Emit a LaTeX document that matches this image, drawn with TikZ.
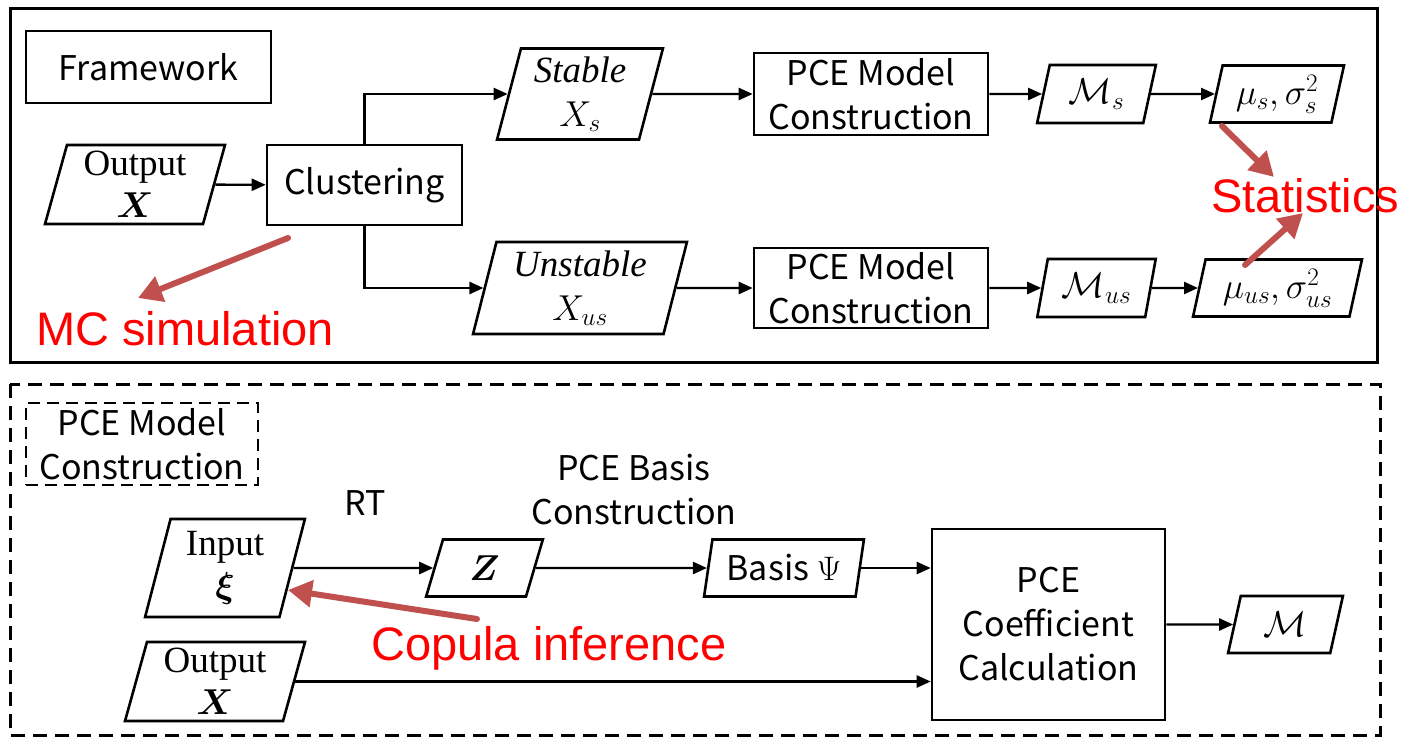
\RequirePackage{fix-cm}
\documentclass[tikz,border=0pt]{standalone}
\usepackage{amsmath}
\usepackage{fontspec}
\newfontfamily\uisans{Noto Sans CJK SC}
\newfontfamily\redsans{Liberation Sans}
\newfontfamily\wordserif{Liberation Serif}
\newcommand{\wrd}[1]{{\wordserif\fontsize{37}{44}\selectfont #1}}
\usetikzlibrary{shapes.geometric,arrows.meta}
\definecolor{accentred}{HTML}{C0504D}
\tikzset{
  box/.style={draw, line width=2.6pt, font=\uisans\fontsize{34}{44}\selectfont, align=center, inner sep=0pt},
  para/.style={draw, line width=2.6pt, trapezium, trapezium left angle=76, trapezium right angle=104,
    trapezium stretches=true, inner sep=0pt, align=center, font=\fontsize{36}{44}\selectfont},
  flow/.style={line width=2.4pt, -{Triangle[length=14pt,width=12pt]}},
  note/.style={text=red, font=\redsans\fontsize{47}{52}\selectfont, inner sep=0pt},
  hint/.style={draw=accentred, line width=6pt, line cap=round, -{Triangle[length=24pt,width=26pt]}},
  lbl/.style={font=\uisans\fontsize{34}{44}\selectfont, align=center, inner sep=0pt},
  frame/.style={line width=3pt},
}
\begin{document}
\begin{tikzpicture}[x=1pt,y=-1pt]
\useasboundingbox (0,0) rectangle (1404,736);

% ---------- framework ----------
\draw[frame] (10,8) rectangle (1377,362);
\node[box, minimum width=245pt, minimum height=72pt] (fw) at (148.5,67) {Framework};

\node[para, minimum width=180pt, minimum height=79pt] (out) at (135,184.5) {\wrd{Output}\\[-2pt]$\boldsymbol{X}$};
\node[box, minimum width=195pt, minimum height=80pt] (clu) at (364.5,185) {Clustering};

\node[para, minimum width=166pt, minimum height=91pt] (st) at (580,94) {\wrd{\itshape Stable}\\$X_s$};
\node[para, minimum width=214pt, minimum height=92pt] (ust) at (580,288) {\wrd{\itshape Unstable}\\$X_{us}$};

\node[box, minimum width=234pt, minimum height=82pt] (pa) at (871,94) {PCE Model\\Construction};
\node[box, minimum width=234pt, minimum height=80pt] (pb) at (871,288) {PCE Model\\Construction};

\node[para, minimum width=119pt, minimum height=58pt] (ma) at (1096.5,94) {$\mathcal{M}_s$};
\node[para, minimum width=119pt, minimum height=58pt] (mb) at (1096.5,288) {$\mathcal{M}_{us}$};

\node[para, minimum width=134pt, minimum height=57pt] (sa) at (1277,94) {$\mu_s,\sigma_s^2$};
\node[para, minimum width=169pt, minimum height=57pt] (sb) at (1277.5,288) {$\mu_{us},\sigma_{us}^2$};

\draw[flow] (out) -- (clu);
\draw[flow] (clu.north) |- (st);
\draw[flow] (clu.south) |- (ust);
\draw[flow] (st) -- (pa);
\draw[flow] (ust) -- (pb);
\draw[flow] (pa) -- (ma);
\draw[flow] (pb) -- (mb);
\draw[flow] (ma) -- (sa);
\draw[flow] (mb) -- (sb);

% annotations
\node[note, anchor=base west] (stat) at (1211,212) {Statistics};
\node[note, anchor=base west] (mc) at (36,345) {MC simulation};
\coordinate (s1a) at (1222,126);
\coordinate (s1b) at (1274,177);
\coordinate (s2a) at (1245,265);
\coordinate (s2b) at (1303,213);
\coordinate (mca) at (288,238);
\coordinate (mcb) at (138,298);
\draw[hint] (s1a) -- (s1b);
\draw[hint] (s2a) -- (s2b);
\draw[hint] (mca) -- (mcb);

% ---------- PCE model construction ----------
\draw[frame, dash pattern=on 14pt off 8pt] (10,384) rectangle (1380,735);
\node[box, dash pattern=on 12pt off 7pt, minimum width=232pt, minimum height=82pt] (pm) at (142,444) {PCE Model\\Construction};

\node[para, minimum width=160pt, minimum height=98pt] (in) at (225,568) {\wrd{Input}\\[-2pt]$\boldsymbol{\xi}$};
\node[para, minimum width=180pt, minimum height=79pt] (out2) at (215,681.5) {\wrd{Output}\\[-2pt]$\boldsymbol{X}$};
\node[para, minimum width=117pt, minimum height=57pt] (z) at (484.5,568) {$\boldsymbol{Z}$};
\node[para, minimum width=160pt, minimum height=57pt, font=\uisans\fontsize{34}{44}\selectfont] (bas) at (784,568) {Basis $\Psi$};
\node[box, minimum width=233pt, minimum height=191pt] (coef) at (1048.5,624.5) {PCE\\Coefficient\\Calculation};
\node[para, minimum width=115pt, minimum height=57pt] (m) at (1285.5,624.5) {$\mathcal{M}$};

\node[lbl] (rt) at (365,503) {RT};
\node[lbl] (pb2) at (634,490) {PCE Basis\\Construction};

\draw[flow] (in) -- (z);
\draw[flow] (z) -- (bas);
\draw[flow] (bas.east) -- (bas.east -| coef.west);
\draw[flow] (out2.east) -- (out2.east -| coef.west);
\draw[flow] (coef) -- (m);

\node[note, anchor=base west] (cop) at (371,660) {Copula inference};
\coordinate (cpa) at (477,619);
\coordinate (cpb) at (288,590);
\draw[hint] (cpa) -- (cpb);
\end{tikzpicture}
\end{document}
